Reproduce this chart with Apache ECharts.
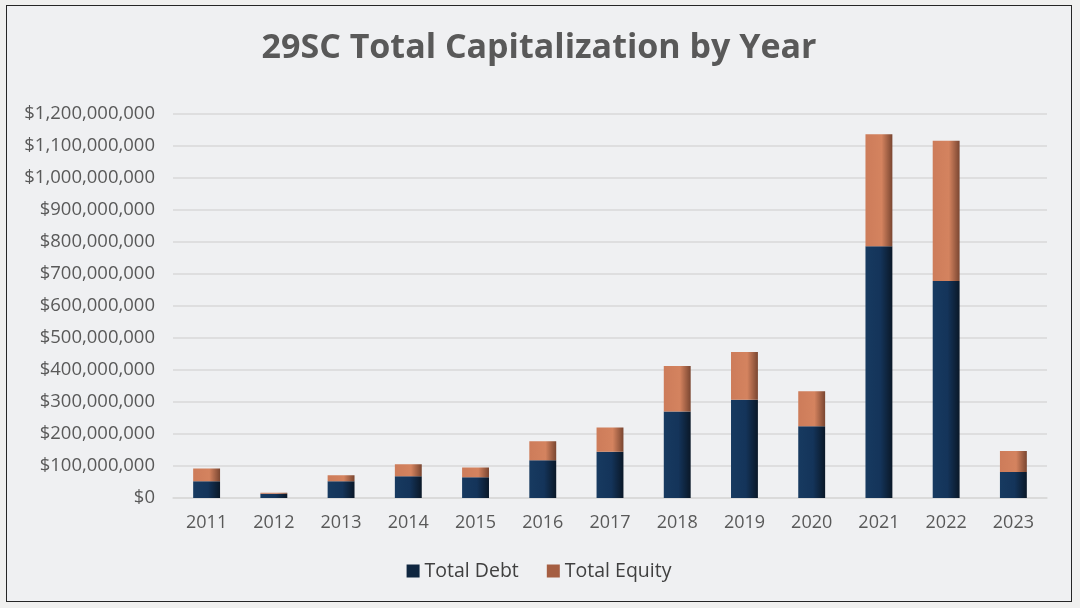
<!DOCTYPE html>
<html>
<head>
<meta charset="utf-8">
<script src="https://cdn.jsdelivr.net/npm/echarts@6/dist/echarts.min.js"></script>
<style>
html,body{margin:0;padding:0;background:#f0f0ef;}
#frame{position:absolute;left:6px;top:5px;width:1064px;height:595px;border:1.5px solid #262626;background:#eff0f2;}
#chart{width:1064px;height:595px;}
</style>
</head>
<body>
<div id="frame"><div id="chart"></div></div>
<script>
const years = ['2011','2012','2013','2014','2015','2016','2017','2018','2019','2020','2021','2022','2023'];
const totalDebt = [52e6, 13e6, 52e6, 68e6, 65e6, 118e6, 144e6, 270e6, 307e6, 224e6, 786e6, 677e6, 81e6];
const totalEquity = [40e6, 3e6, 19e6, 37e6, 30e6, 59e6, 76e6, 142e6, 149e6, 109e6, 349e6, 438e6, 66e6];
const yTicks = [0, 1200e6, 100e6];

const chart = echarts.init(document.getElementById('chart'));
const fmt = v => '$' + v.toLocaleString('en-US');
const debtFill = new echarts.graphic.LinearGradient(0,0,1,0,[
  {offset:0,color:'#173a60'},{offset:0.55,color:'#14345a'},{offset:1,color:'#0a1828'}]);
const eqFill = new echarts.graphic.LinearGradient(0,0,1,0,[
  {offset:0,color:'#cd7c5a'},{offset:0.6,color:'#d4835f'},{offset:1,color:'#7a4631'}]);
const F = 'Open Sans';
chart.setOption({
  backgroundColor:'#eff0f2',
  textStyle:{fontFamily:F},
  title:{text:'29SC Total Capitalization by Year',left:'center',top:20,
    textStyle:{fontFamily:F,fontWeight:'bold',fontSize:34,color:'#595959'}},
  grid:{left:166,right:24,top:107.5,bottom:103},
  legend:{bottom:15,left:'center',itemWidth:13,itemHeight:13,itemGap:28,itemTextGap:6,icon:'rect',
    textStyle:{fontFamily:F,fontSize:19.5,color:'#404040'},
    data:[{name:'Total Debt',itemStyle:{color:'#0f2640'}},{name:'Total Equity',itemStyle:{color:'#a55e42'}}]},
  xAxis:{type:'category',data:years,
    axisLine:{lineStyle:{color:'#d9d9d9',width:1.5}},axisTick:{show:false},
    axisLabel:{fontSize:18,color:'#595959',margin:16}},
  yAxis:{type:'value',min:yTicks[0],max:yTicks[1],interval:yTicks[2],
    axisLine:{show:false},axisTick:{show:false},
    splitLine:{lineStyle:{color:'#d9d9d9',width:1.5}},
    axisLabel:{fontSize:18.5,color:'#595959',formatter:fmt,margin:18}},
  series:[
    {name:'Total Debt',type:'bar',stack:'cap',data:totalDebt,barWidth:'40%',
      itemStyle:{color:debtFill}},
    {name:'Total Equity',type:'bar',stack:'cap',data:totalEquity,barWidth:'40%',
      itemStyle:{color:eqFill}}
  ]
});
</script>
</body>
</html>
